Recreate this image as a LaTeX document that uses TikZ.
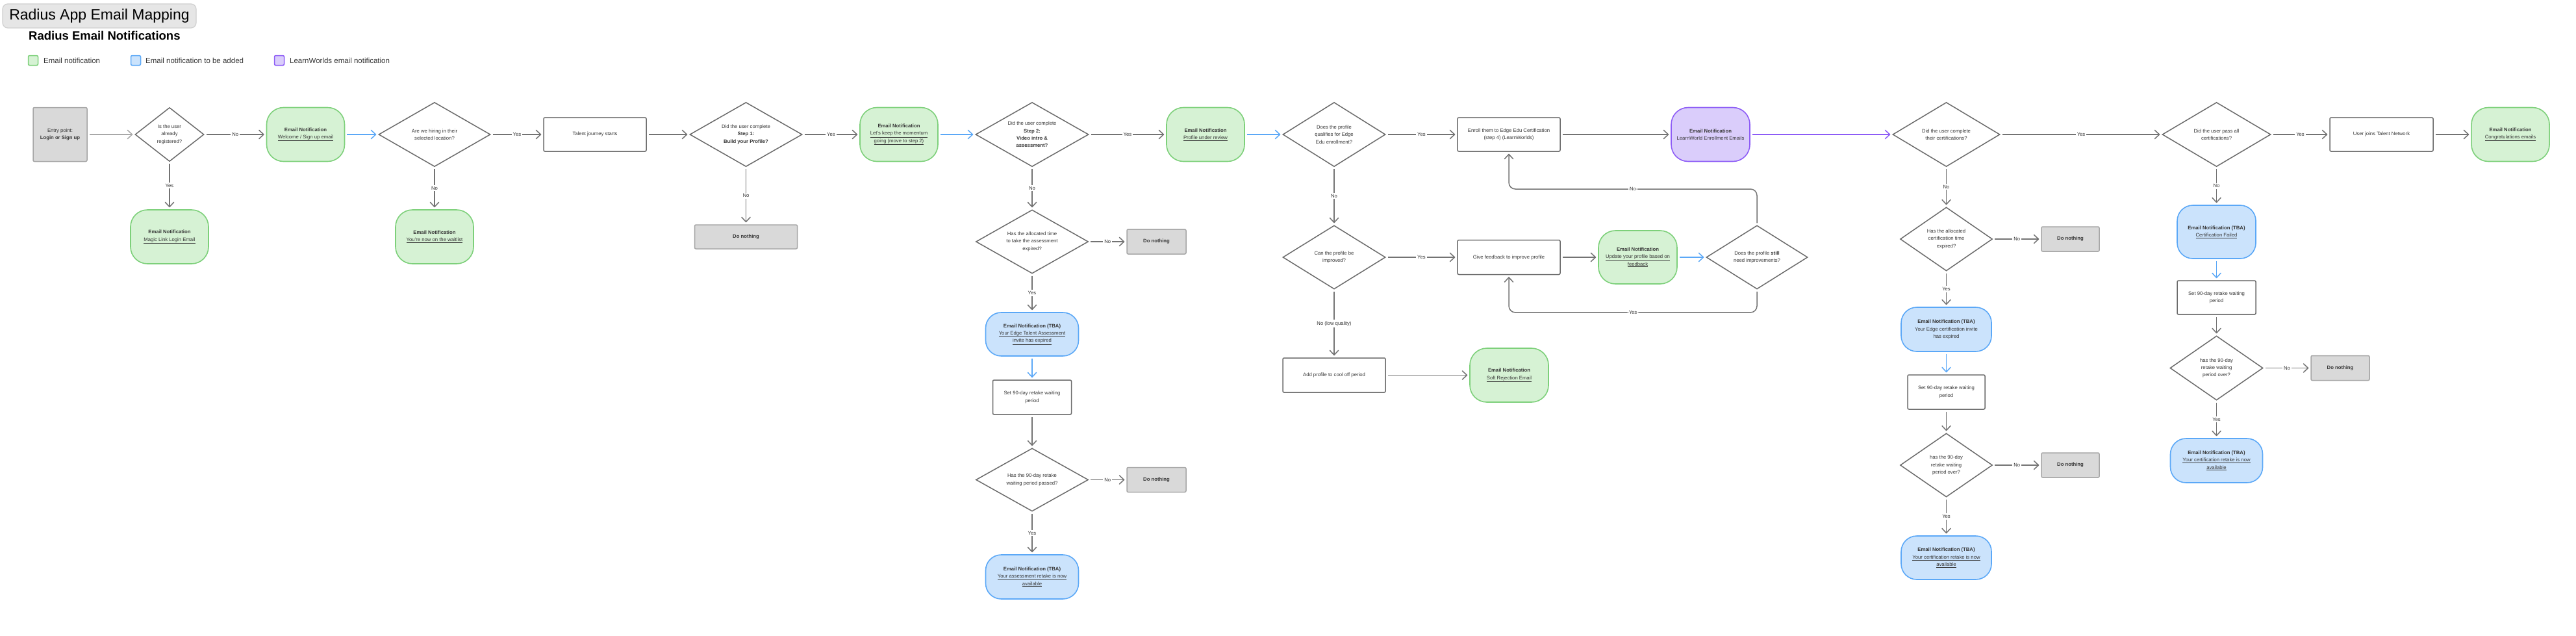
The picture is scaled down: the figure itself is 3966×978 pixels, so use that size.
\documentclass[tikz,border=0pt]{standalone}
\usepackage{fontspec}
\setmainfont{Liberation Sans}
\usetikzlibrary{shapes.geometric,arrows.meta}
\definecolor{cgray}{HTML}{737373}
\definecolor{clight}{HTML}{A8A8A8}
\definecolor{dgray}{HTML}{6B6B6B}
\definecolor{txtc}{HTML}{363636}
\definecolor{gfill}{HTML}{D6F2D4}
\definecolor{gline}{HTML}{7DD07A}
\definecolor{bfill}{HTML}{CBE3FC}
\definecolor{bline}{HTML}{5BA8F7}
\definecolor{pfill}{HTML}{DACDFB}
\definecolor{pline}{HTML}{8D5CF6}
\definecolor{nfill}{HTML}{D9D9D9}
\definecolor{nline}{HTML}{A6A6A6}
\definecolor{tfill}{HTML}{E6E6E6}
\definecolor{tline}{HTML}{CFCFCF}
\newcommand{\nf}{\fontsize{7.7}{11.3}\selectfont}
\begin{document}
\begin{tikzpicture}[x=1pt,y=-1pt,
  sz/.style 2 args={minimum width=#1pt,minimum height=#2pt},
  base/.style={align=center,font=\nf,text=txtc,inner sep=2pt,line width=1.6pt},
  gbox/.style={base,rectangle,rounded corners=26pt,fill=gfill,draw=gline,sz={120}{83}},
  bbox/.style={base,rectangle,rounded corners=24pt,fill=bfill,draw=bline},
  pbox/.style={base,rectangle,rounded corners=26pt,fill=pfill,draw=pline,sz={121}{83}},
  wbox/.style={base,rectangle,rounded corners=2pt,fill=white,draw=dgray,line width=1.5pt},
  nbox/.style={base,rectangle,rounded corners=2pt,fill=nfill,draw=nline,line width=1.5pt,font=\nf\bfseries},
  dia/.style={diamond,draw=dgray,fill=white,line width=1.5pt,inner sep=0pt},
  dt/.style={align=center,font=\nf,text=txtc,inner sep=0pt},
  conn/.style={draw=cgray,line width=1.5pt,-{Straight Barb[length=7pt,width=13pt,round]},shorten >=3pt,shorten <=3pt},
  connl/.style={conn,draw=clight},
  connb/.style={conn,draw=bline},
  connp/.style={conn,draw=pline},
  lbl/.style={fill=white,inner sep=2pt,font=\nf,text=txtc},
  legsq/.style={rectangle,rounded corners=2pt,line width=1.5pt,minimum width=15pt,minimum height=15pt,inner sep=0pt},
  legtx/.style={anchor=west,font=\fontsize{11.5}{14}\selectfont,text=txtc,inner sep=0pt}
]
\useasboundingbox (0,0) rectangle (3966,978);
\fill[white] (0,0) rectangle (3966,978);

% title and legend
\node[rectangle,rounded corners=8pt,fill=tfill,draw=tline,line width=1.2pt,sz={298}{37},font=\fontsize{23}{28}\selectfont,text=black] (title) at (153,24.5) {Radius App Email Mapping};
\node[anchor=base west,font=\fontsize{18.5}{22}\selectfont\bfseries,text=black,inner sep=0pt] (subtitle) at (44,61) {Radius Email Notifications};
\node[legsq,fill=gfill,draw=gline] (lg1) at (51,93) {};
\node[legtx] (lg1t) at (67,93) {Email notification};
\node[legsq,fill=bfill,draw=bline] (lg2) at (209,93) {};
\node[legtx] (lg2t) at (224,93) {Email notification to be added};
\node[legsq,fill=pfill,draw=pline] (lg3) at (430,93) {};
\node[legtx] (lg3t) at (446,93) {LearnWorlds email notification};

% column 1-2
\node[nbox,sz={83}{83},font=\nf] (entry) at (92.5,207) {Entry point:\\\textbf{Login or Sign up}};
\node[dia,sz={106}{83}] (d1) at (261,207) {};
\node[dt] (d1t) at (d1) {Is the user\\already\\registered?};
\node[gbox] (welcome) at (470.5,207) {\textbf{Email Notification}\\\underline{Welcome / Sign up email}};
\node[gbox] (magic) at (261,364.5) {\textbf{Email Notification}\\\underline{Magic Link Login Email}};
\node[dia,sz={172}{99}] (d2) at (669,207) {};
\node[dt] (d2t) at (d2) {Are we hiring in their\\selected location?};
\node[gbox] (waitlist) at (669,364.5) {\textbf{Email Notification}\\\underline{You're now on the waitlist}};
\node[wbox,sz={158}{52}] (talent) at (916,207) {Talent journey starts};
\node[dia,sz={173}{99}] (d3) at (1148.5,207) {};
\node[dt] (d3t) at (d3) {Did the user complete\\\textbf{Step 1:}\\\textbf{Build your Profile?}};
\node[nbox,sz={158}{37}] (nothing1) at (1148.5,364.5) {Do nothing};
\node[gbox] (momentum) at (1384,207) {\textbf{Email Notification}\\\underline{Let's keep the momentum}\\\underline{going (move to step 2)}};

% step 2 column
\node[dia,sz={174}{99}] (d4) at (1589,207) {};
\node[dt] (d4t) at (d4) {Did the user complete\\\textbf{Step 2:}\\\textbf{Video intro \&}\\\textbf{assessment?}};
\node[gbox] (review) at (1856,207) {\textbf{Email Notification}\\\underline{Profile under review}};
\node[dia,sz={173}{98}] (d6) at (1589,372) {};
\node[dt] (d6t) at (d6) {Has the allocated time\\to take the assessment\\expired?};
\node[nbox,sz={91}{38}] (nothing2) at (1780.5,372) {Do nothing};
\node[bbox,sz={143}{67}] (tba1) at (1589,514.5) {\textbf{Email Notification (TBA)}\\\underline{Your Edge Talent Assessment}\\\underline{invite has expired}};
\node[wbox,sz={121}{53}] (set1) at (1589,611.5) {Set 90-day retake waiting\\period};
\node[dia,sz={173}{97}] (d7) at (1589,738.5) {};
\node[dt] (d7t) at (d7) {Has the 90-day retake\\waiting period passed?};
\node[nbox,sz={91}{38}] (nothing3) at (1780.5,738.5) {Do nothing};
\node[bbox,sz={143}{68}] (tba2) at (1589,888) {\textbf{Email Notification (TBA)}\\\underline{Your assessment retake is now}\\\underline{available}};

% review column
\node[dia,sz={158}{99}] (d5) at (2054,207) {};
\node[dt] (d5t) at (d5) {Does the profile\\qualifies for Edge\\Edu enrollment?};
\node[wbox,sz={158}{52}] (enroll) at (2323,207) {Enroll them to Edge Edu Certification\\(step 4) (LearnWorlds)};
\node[pbox] (lw) at (2633.5,207) {\textbf{Email Notification}\\LearnWorld Enrollment Emails};
\node[dia,sz={158}{98}] (d9) at (2054,396) {};
\node[dt] (d9t) at (d9) {Can the profile be\\improved?};
\node[wbox,sz={158}{53}] (feedback) at (2323,396) {Give feedback to improve profile};
\node[gbox,sz={121}{82}] (update) at (2521.5,396) {\textbf{Email Notification}\\\underline{Update your profile based on}\\\underline{feedback}};
\node[dia,sz={156}{98}] (d8) at (2705,396) {};
\node[dt] (d8t) at (d8) {Does the profile \textbf{still}\\need improvements?};
\node[wbox,sz={158}{53}] (add) at (2054,577.5) {Add profile to cool off period};
\node[gbox,sz={121}{83}] (soft) at (2323.5,577.5) {\textbf{Email Notification}\\\underline{Soft Rejection Email}};

% certification column
\node[dia,sz={165}{99}] (d10) at (2996.5,207) {};
\node[dt] (d10t) at (d10) {Did the user complete\\their certifications?};
\node[dia,sz={142}{98}] (d12) at (2996.5,368) {};
\node[dt] (d12t) at (d12) {Has the allocated\\certification time\\expired?};
\node[nbox,sz={89}{38}] (nothing4) at (3187.5,368) {Do nothing};
\node[bbox,sz={139}{68}] (tba3) at (2996.5,507) {\textbf{Email Notification (TBA)}\\Your Edge certification invite\\has expired};
\node[wbox,sz={119}{53}] (set2) at (2996.5,603.5) {Set 90-day retake waiting\\period};
\node[dia,sz={142}{98}] (d13) at (2996.5,716) {};
\node[dt] (d13t) at (d13) {has the 90-day\\retake waiting\\period over?};
\node[nbox,sz={89}{38}] (nothing5) at (3187.5,716) {Do nothing};
\node[bbox,sz={139}{67}] (tba4) at (2996.5,858.5) {\textbf{Email Notification (TBA)}\\\underline{Your certification retake is now}\\\underline{available}};

% pass column
\node[dia,sz={167}{99}] (d11) at (3412.5,207) {};
\node[dt] (d11t) at (d11) {Did the user pass all\\certifications?};
\node[wbox,sz={159}{52}] (usernet) at (3666.5,207) {User joins Talent Network};
\node[gbox] (congrats) at (3865,207) {\textbf{Email Notification}\\\underline{Congratulations emails}};
\node[bbox,sz={121}{82}] (failed) at (3412.5,357) {\textbf{Email Notification (TBA)}\\\underline{Certification Failed}};
\node[wbox,sz={121}{52}] (set3) at (3412.5,458) {Set 90-day retake waiting\\period};
\node[dia,sz={143}{99}] (d14) at (3412.5,566.5) {};
\node[dt] (d14t) at (d14) {has the 90-day\\retake waiting\\period over?};
\node[nbox,sz={90}{38}] (nothing6) at (3603,566.5) {Do nothing};
\node[bbox,sz={142}{68}] (tba5) at (3412.5,709) {\textbf{Email Notification (TBA)}\\\underline{Your certification retake is now}\\\underline{available}};

% connectors
\draw[connl] (entry.east) -- (d1.west);
\draw[conn] (d1.east) -- node[lbl]{No} (welcome.west);
\draw[conn] (d1.south) -- node[lbl]{Yes} (magic.north);
\draw[connb] (welcome.east) -- (d2.west);
\draw[conn] (d2.east) -- node[lbl]{Yes} (talent.west);
\draw[conn] (d2.south) -- node[lbl]{No} (waitlist.north);
\draw[conn] (talent.east) -- (d3.west);
\draw[conn] (d3.east) -- node[lbl]{Yes} (momentum.west);
\draw[conn] (d3.south) -- node[lbl]{No} (nothing1.north);
\draw[connb] (momentum.east) -- (d4.west);
\draw[conn] (d4.east) -- node[lbl]{Yes} (review.west);
\draw[conn] (d4.south) -- node[lbl]{No} (d6.north);
\draw[conn] (d6.east) -- node[lbl]{No} (nothing2.west);
\draw[conn] (d6.south) -- node[lbl]{Yes} (tba1.north);
\draw[connb] (tba1.south) -- (set1.north);
\draw[conn] (set1.south) -- (d7.north);
\draw[conn] (d7.east) -- node[lbl]{No} (nothing3.west);
\draw[conn] (d7.south) -- node[lbl]{Yes} (tba2.north);
\draw[connb] (review.east) -- (d5.west);
\draw[conn] (d5.east) -- node[lbl]{Yes} (enroll.west);
\draw[conn] (d5.south) -- node[lbl]{No} (d9.north);
\draw[conn] (enroll.east) -- (lw.west);
\draw[conn] (d9.east) -- node[lbl]{Yes} (feedback.west);
\draw[conn] (d9.south) -- node[lbl]{No (low quality)} (add.north);
\draw[conn] (add.east) -- (soft.west);
\draw[conn] (feedback.east) -- (update.west);
\draw[connb] (update.east) -- (d8.west);
\draw[conn,rounded corners=10pt] (d8.north) -- (d8.north |- 0,291) -- node[lbl]{No} (enroll.south |- 0,291) -- (enroll.south);
\draw[conn,rounded corners=10pt] (d8.south) -- (d8.south |- 0,481) -- node[lbl]{Yes} (feedback.south |- 0,481) -- (feedback.south);
\draw[connp] (lw.east) -- (d10.west);
\draw[conn] (d10.east) -- node[lbl]{Yes} (d11.west);
\draw[conn] (d10.south) -- node[lbl]{No} (d12.north);
\draw[conn] (d12.east) -- node[lbl]{No} (nothing4.west);
\draw[conn] (d12.south) -- node[lbl]{Yes} (tba3.north);
\draw[connb] (tba3.south) -- (set2.north);
\draw[conn] (set2.south) -- (d13.north);
\draw[conn] (d13.east) -- node[lbl]{No} (nothing5.west);
\draw[conn] (d13.south) -- node[lbl]{Yes} (tba4.north);
\draw[conn] (d11.east) -- node[lbl]{Yes} (usernet.west);
\draw[conn] (usernet.east) -- (congrats.west);
\draw[conn] (d11.south) -- node[lbl]{No} (failed.north);
\draw[connb] (failed.south) -- (set3.north);
\draw[conn] (set3.south) -- (d14.north);
\draw[conn] (d14.east) -- node[lbl]{No} (nothing6.west);
\draw[conn] (d14.south) -- node[lbl]{Yes} (tba5.north);
\end{tikzpicture}
\end{document}
